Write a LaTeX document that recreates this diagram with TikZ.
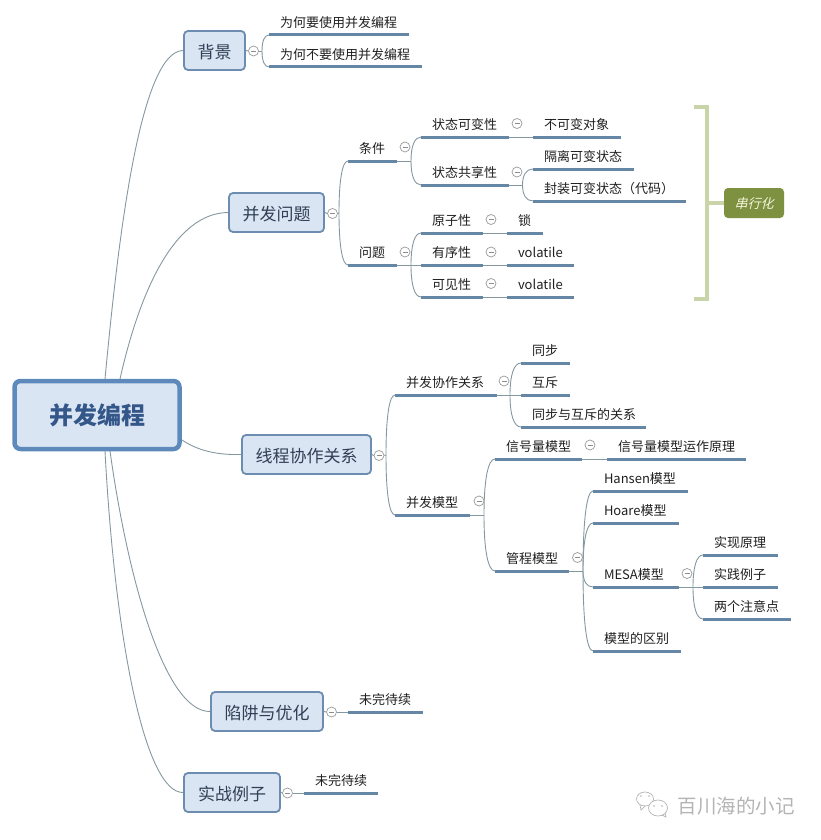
\documentclass[tikz,border=0pt]{standalone}
\usepackage{fontspec}
\setmainfont{Noto Sans CJK SC}
\usetikzlibrary{calc,backgrounds}
\definecolor{barc}{HTML}{6686A6}
\definecolor{connc}{HTML}{84989F}
\definecolor{topicfill}{HTML}{DAE5F3}
\definecolor{topicline}{HTML}{6C8DB0}
\definecolor{mainline}{HTML}{5E8ABB}
\definecolor{maintext}{HTML}{34578A}
\definecolor{topictext}{HTML}{2F3F55}
\definecolor{brk}{HTML}{C9D4A8}
\definecolor{serfill}{HTML}{7D9140}
\definecolor{sertext}{HTML}{F2F5DC}
\definecolor{wm}{HTML}{B4B4B4}
\tikzset{
  bar/.style={rectangle,fill=barc,inner sep=0pt,outer sep=0pt,minimum height=3pt},
  leaf/.style={anchor=west,inner sep=0pt,outer sep=0pt,text=black!88,font=\fontsize{13}{15}\selectfont},
  topic/.style={rectangle,rounded corners=4pt,draw=topicline,line width=1.8pt,fill=topicfill,
    inner sep=0pt,text=topictext,text height=17.5pt,text depth=2pt,font=\fontsize{17}{19}\selectfont},
  mainbox/.style={rectangle,rounded corners=6pt,draw=mainline,line width=4.5pt,fill=topicfill,
    inner sep=0pt,text=maintext,font=\fontsize{24}{26}\selectfont\bfseries},
  serbox/.style={rectangle,rounded corners=4pt,fill=serfill,inner sep=0pt,text=sertext,
    text height=13.5pt,text depth=2pt,font=\fontsize{13}{15}\selectfont},
  conn/.style={draw=connc,line width=0.9pt},
  brace/.style={draw=brk,line width=4pt},
  fold/.style={circle,draw=black!40,fill=white,line width=0.7pt,inner sep=0pt,minimum size=10pt,
    path picture={\draw[black!45,line width=0.7pt] ($(path picture bounding box.center)+(-2.5,0)$) -- ($(path picture bounding box.center)+(2.5,0)$);}},
}
% name, bar left, bar right, bar y, text x, text
\newcommand\lbar[6]{%
  \node[bar,minimum width={(#3-#2)*1pt}] (#1) at ({(#2+#3)/2},#4) {};
  \node[leaf] (#1t) at (#5,{#4-12.8}) {#6};
}
\newcommand\forkto[2]{\draw[conn] (#1) .. controls ($(#1)!0.62!(#1 |- #2.west)$) and ($(#1 |- #2.west)!0.35!(#2.west)$) .. (#2.west);}
\begin{document}
\begin{tikzpicture}[x=1pt,y=-1pt]
\useasboundingbox (0,0) rectangle (821,840);
% main and topics
\node[mainbox,minimum width=165pt,minimum height=68pt] (main) at (97,415) {并发编程};
\node[topic,minimum width=61pt,minimum height=39pt] (bg) at (214.5,50.5) {背景};
\node[topic,minimum width=95pt,minimum height=39pt] (wt) at (276.5,212.5) {并发问题};
\node[topic,minimum width=129pt,minimum height=39pt] (xc) at (306.5,454.5) {线程协作关系};
\node[topic,minimum width=112pt,minimum height=39pt] (xj) at (267,711.5) {陷阱与优化};
\node[topic,minimum width=96pt,minimum height=39pt] (sz) at (232,792.5) {实战例子};
% folds
\node[fold] (fbg) at (253.5,51) {};
\node[fold] (fwt) at (332.5,213.5) {};
\node[fold] (fxc) at (379,455.5) {};
\node[fold] (fxj) at (331.5,712) {};
\node[fold] (fsz) at (287.5,793) {};
\node[fold] (ftj) at (405,147) {};
\node[fold] (fwd) at (405,252) {};
\node[fold] (fkb) at (517,123.5) {};
\node[fold] (fgx) at (517,172) {};
\node[fold] (fyz) at (491,219.5) {};
\node[fold] (fyx) at (491,252) {};
\node[fold] (fkj) at (491,283.5) {};
\node[fold] (fxz) at (504,381) {};
\node[fold] (fmx) at (479,501) {};
\node[fold] (fxh) at (590,445) {};
\node[fold] (fgc) at (577.5,557.5) {};
\node[fold] (fme) at (687,573.5) {};
% labelled bars
\lbar{a1}{269}{409}{35}{280}{为何要使用并发编程}
\lbar{a2}{269}{422}{67}{280}{为何不要使用并发编程}
\lbar{tj}{348}{397}{161}{359}{条件}
\lbar{wd}{348}{397}{265}{359}{问题}
\lbar{kb}{421}{509}{137}{432}{状态可变性}
\lbar{gx}{421}{509}{185}{432}{状态共享性}
\lbar{bk}{533}{621}{137}{544}{不可变对象}
\lbar{gl}{533}{634}{169}{544}{隔离可变状态}
\lbar{fz}{533}{686}{201}{544}{封装可变状态（代码）}
\lbar{yz}{421}{483}{233}{432}{原子性}
\lbar{yx}{421}{483}{265}{432}{有序性}
\lbar{kj}{421}{483}{297}{432}{可见性}
\lbar{so}{507}{543}{233}{518}{锁}
\lbar{v1}{507}{574}{265}{518}{volatile}
\lbar{v2}{507}{574}{297}{518}{volatile}
\lbar{xz}{395}{497}{395}{406}{并发协作关系}
\lbar{mx}{395}{470}{515}{406}{并发模型}
\lbar{tb}{521}{570}{363}{532}{同步}
\lbar{hc}{521}{570}{395}{532}{互斥}
\lbar{gs}{521}{646}{427}{532}{同步与互斥的关系}
\lbar{xh}{495}{582}{459}{506}{信号量模型}
\lbar{yl}{607}{746}{459}{618}{信号量模型运作原理}
\lbar{gc}{495}{569}{571}{506}{管程模型}
\lbar{ha}{593}{688}{491}{604}{Hansen模型}
\lbar{ho}{593}{679}{523}{604}{Hoare模型}
\lbar{me}{593}{679}{587}{604}{MESA模型}
\lbar{qb}{593}{681}{651}{604}{模型的区别}
\lbar{sx}{703}{778}{555}{714}{实现原理}
\lbar{sj}{703}{778}{587}{714}{实践例子}
\lbar{lg}{703}{791}{619}{714}{两个注意点}
\lbar{w1}{348}{423}{712}{359}{未完待续}
\lbar{w2}{304}{378}{793}{315}{未完待续}
% summary
\node[serbox,minimum width=60pt,minimum height=30pt] (ser) at (754,203) {\addfontfeature{FakeSlant=0.25}串行化};
\coordinate (bt) at (694,107);
\coordinate (bb) at (694,299);
\coordinate (bm) at (707,203);
% fork points
\coordinate (k0) at (262,51);
\coordinate (k1) at (339,213);
\coordinate (k2) at (411,161);
\coordinate (k3) at (411,265);
\coordinate (k4) at (522.5,185);
\coordinate (k5) at (386,455);
\coordinate (k6) at (510,395);
\coordinate (k7) at (484,515);
\coordinate (k8) at (583,571);
\coordinate (k9) at (693,587);
% anchors on the main box
\coordinate (m1) at (105,379);
\coordinate (m2) at (120,379);
\coordinate (m3) at (182,440);
\coordinate (m4) at (110,451);
\coordinate (m5) at (105,451);
\begin{scope}[on background layer]
  \draw[conn] (m1) .. controls (118,240) and (140,51) .. (bg.west);
  \draw[conn] (m2) .. controls (140,290) and (175,213) .. (wt.west);
  \draw[conn] (m3) .. controls (200,452) and (220,455) .. (xc.west);
  \draw[conn] (m4) .. controls (128,580) and (165,712) .. (xj.west);
  \draw[conn] (m5) .. controls (115,640) and (145,793) .. (sz.west);
  \draw[conn] (bg.east) -- (fbg.west);
  \draw[conn] (fbg.east) -- (k0);
  \forkto{k0}{a1}\forkto{k0}{a2}
  \draw[conn] (wt.east) -- (fwt.west);
  \draw[conn] (fwt.east) -- (k1);
  \forkto{k1}{tj}\forkto{k1}{wd}
  \draw[conn] (tj.east) -- (k2);
  \forkto{k2}{kb}\forkto{k2}{gx}
  \draw[conn] (wd.east) -- (yx.west);
  \forkto{k3}{yz}\forkto{k3}{kj}
  \draw[conn] (kb.east) -- (bk.west);
  \draw[conn] (gx.east) -- (k4);
  \forkto{k4}{gl}\forkto{k4}{fz}
  \draw[conn] (yz.east) -- (so.west);
  \draw[conn] (yx.east) -- (v1.west);
  \draw[conn] (kj.east) -- (v2.west);
  \draw[conn] (xc.east) -- (fxc.west);
  \draw[conn] (fxc.east) -- (k5);
  \forkto{k5}{xz}\forkto{k5}{mx}
  \draw[conn] (xz.east) -- (hc.west);
  \forkto{k6}{tb}\forkto{k6}{gs}
  \draw[conn] (mx.east) -- (k7);
  \forkto{k7}{xh}\forkto{k7}{gc}
  \draw[conn] (xh.east) -- (yl.west);
  \draw[conn] (gc.east) -- (k8);
  \forkto{k8}{ha}\forkto{k8}{ho}\forkto{k8}{me}\forkto{k8}{qb}
  \draw[conn] (me.east) -- (sj.west);
  \forkto{k9}{sx}\forkto{k9}{lg}
  \draw[conn] (xj.east) -- (fxj.west);
  \draw[conn] (fxj.east) -- (w1.west);
  \draw[conn] (sz.east) -- (fsz.west);
  \draw[conn] (fsz.east) -- (w2.west);
\end{scope}
% bracket of the summary
\draw[brace] (bt) -| (bm |- bb) -- (bb);
\draw[brace] (bm) -- (ser.west);
% watermark
\node[inner sep=0pt,text=wm,font=\fontsize{19.5}{21}\selectfont] (wmt) at (736,806) {百川海的小记};
\draw[wm,line width=0.7pt,fill=white] (645,799) ellipse (8.5 and 7);
\draw[wm,line width=0.7pt] (640,805) -- (641,810) -- (645,806);
\draw[wm,line width=0.7pt,fill=white] (658,808) ellipse (9.5 and 8);
\draw[wm,line width=0.7pt] (662,815) -- (666,817) -- (665,813);
\fill[wm] (641,796) circle (0.9) (649,796) circle (0.9) (654,806) circle (0.8) (662,806) circle (0.8);
\end{tikzpicture}
\end{document}
